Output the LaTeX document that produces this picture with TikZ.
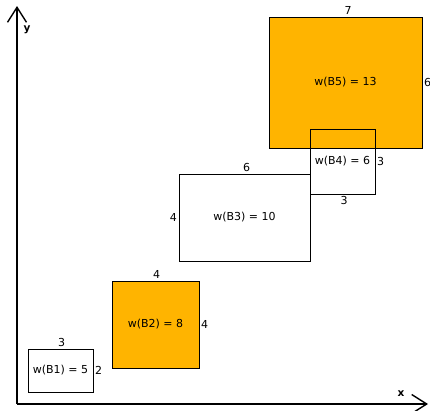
\documentclass[tikz,border=0pt]{standalone}
\usepackage{fontspec}
\setmainfont{DejaVu Sans}
\usetikzlibrary{arrows.meta}
\definecolor{boxorange}{RGB}{255,180,0}
\begin{document}
\begin{tikzpicture}[x=1pt,y=-1pt,
  every node/.style={font=\fontsize{11}{13}\selectfont},
  box/.style={draw=black,line width=0.9pt,inner sep=0pt,rectangle},
  filled/.style={box,fill=boxorange},
  dim/.style={inner sep=1.5pt},
  axis/.style={line width=1.4pt,-{Straight Barb[length=15pt,width=19pt,line width=1.4pt]}},
  axlabel/.style={font=\fontsize{10.5}{12}\selectfont\bfseries}]
\useasboundingbox (0,0) rectangle (430,410);
\coordinate (O) at (17,404);
\coordinate (Y) at (17,6);
\coordinate (X) at (428,404);
\draw[axis] (O) -- (Y);
\draw[axis] (O) -- (X);
\node[axlabel] (ylab) at (27,30) {y};
\node[axlabel] (xlab) at (401,394) {x};
% B1
\node[box,minimum width=65pt,minimum height=43pt] (B1) at (60.5,370.5) {w(B1) = 5};
\node[dim,anchor=south,xshift=1pt] (B1w) at (B1.north) {3};
\node[dim,anchor=west] (B1h) at (B1.east) {2};
% B2
\node[filled,minimum width=87pt,minimum height=87pt] (B2) at (155.5,324.5) {w(B2) = 8};
\node[dim,anchor=south,xshift=1pt] (B2w) at (B2.north) {4};
\node[dim,anchor=west] (B2h) at (B2.east) {4};
% B3
\node[box,minimum width=131pt,minimum height=87pt] (B3) at (244.5,217.5) {w(B3) = 10};
\node[dim,anchor=south,xshift=2pt] (B3w) at (B3.north) {6};
\node[dim,anchor=east] (B3h) at (B3.west) {4};
% B5
\node[filled,minimum width=153pt,minimum height=131pt] (B5) at (345.5,82.5) {w(B5) = 13};
\node[dim,anchor=south,xshift=2.5pt] (B5w) at (B5.north) {7};
\node[dim,anchor=west] (B5h) at (B5.east) {6};
% B4
\node[box,minimum width=65pt,minimum height=65pt] (B4) at (342.5,161.5) {w(B4) = 6};
\node[dim,anchor=west] (B4h) at (B4.east) {3};
\node[dim,anchor=north,xshift=1.5pt] (B4w) at (B4.south) {3};
\end{tikzpicture}
\end{document}
